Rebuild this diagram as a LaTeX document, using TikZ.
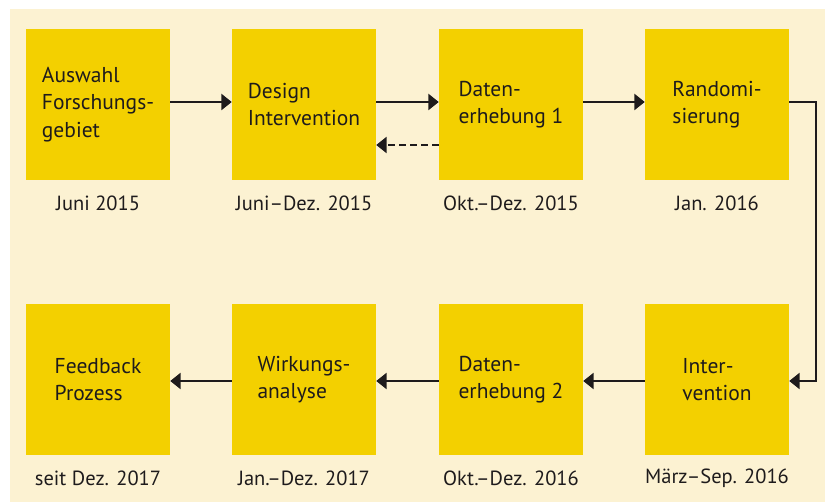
\documentclass[tikz,border=0pt]{standalone}
\usepackage{fontspec}
\setmainfont{PT Sans}
\usetikzlibrary{arrows.meta,calc}
\definecolor{bg}{HTML}{FCF2D2}
\definecolor{boxy}{HTML}{F3D000}
\definecolor{ink}{HTML}{1E1B1C}
\begin{document}
\begin{tikzpicture}[x=1pt,y=-1pt,
  stepbox/.style={fill=boxy, minimum width=144pt, minimum height=151pt, inner sep=0pt, align=left, font=\fontsize{21.5}{27.5}\selectfont, text=ink},
  datelbl/.style={font=\fontsize{20.5}{25}\selectfont, text=ink, inner sep=0pt},
  conn/.style={draw=ink, line width=2.7pt, -{Triangle[length=10.5pt,width=16pt]}}]
\useasboundingbox (0,0) rectangle (825,502);
\fill[bg] (10,9) rectangle (825,502);
% top row
\node[stepbox] (a) at (98,104.5) {Auswahl\\Forschungs-\\gebiet};
\node[stepbox] (b) at (304,104.5) {Design\\Intervention};
\node[stepbox] (c) at (511,104.5) {Daten-\\erhebung 1};
\node[stepbox] (d) at (717,104.5) {Randomi-\\sierung};
% bottom row
\node[stepbox] (h) at (98,379.5) {Feedback\\Prozess};
\node[stepbox] (g) at (304,379.5) {Wirkungs-\\analyse};
\node[stepbox] (f) at (511,379.5) {Daten-\\erhebung 2};
\node[stepbox] (e) at (717,379.5) {Inter-\\vention};
% dates
\node[datelbl] (da) at (98,203.5) {Juni 2015};
\node[datelbl] (db) at (304,203.5) {Juni–Dez. 2015};
\node[datelbl] (dc) at (511,203.5) {Okt.–Dez. 2015};
\node[datelbl] (dd) at (717,203.5) {Jan. 2016};
\node[datelbl] (dh) at (98,478) {seit Dez. 2017};
\node[datelbl] (dg) at (304,478) {Jan.–Dez. 2017};
\node[datelbl] (df) at (511,478) {Okt.–Dez. 2016};
\node[datelbl] (de) at (717,478) {März–Sep. 2016};
% connectors
\draw[conn] ($(a.east)+(0,-2.5)$) -- ($(b.west)+(0,-2.5)$);
\draw[conn] ($(b.east)+(0,-2.5)$) -- ($(c.west)+(0,-2.5)$);
\draw[conn] ($(c.east)+(0,-2.5)$) -- ($(d.west)+(0,-2.5)$);
\draw[conn, dash pattern=on 7pt off 4pt] ($(c.west)+(0,40.5)$) -- ($(b.east)+(0,40.5)$);
\coordinate (r1) at (816,102);
\draw[conn] ($(d.east)+(0,-2.5)$) -- (r1) |- ($(e.east)+(0,1.5)$);
\draw[conn] ($(e.west)+(0,1.5)$) -- ($(f.east)+(0,1.5)$);
\draw[conn] ($(f.west)+(0,1.5)$) -- ($(g.east)+(0,1.5)$);
\draw[conn] ($(g.west)+(0,1.5)$) -- ($(h.east)+(0,1.5)$);
\end{tikzpicture}
\end{document}
